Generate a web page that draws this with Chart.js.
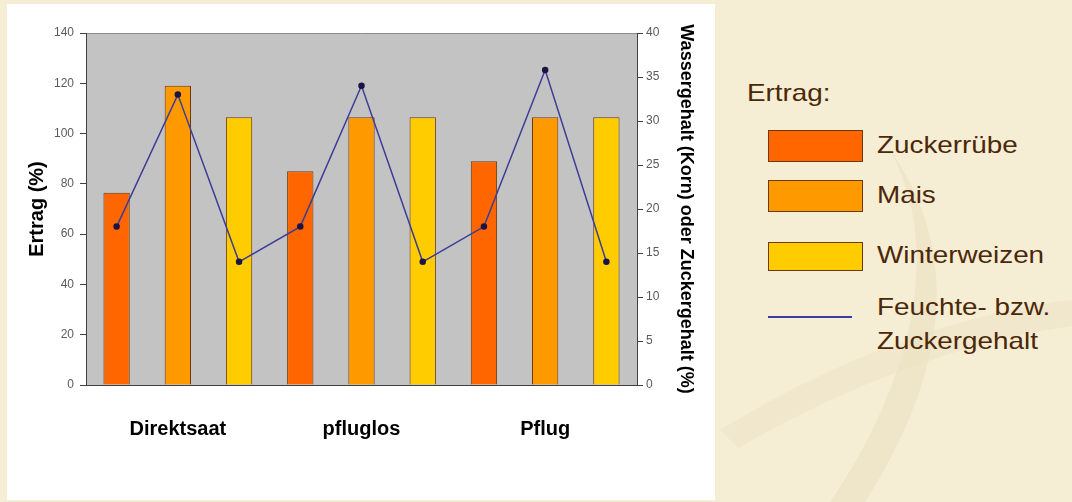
<!DOCTYPE html>
<html lang="de">
<head>
<meta charset="utf-8">
<title>Ertrag und Feuchte-/Zuckergehalt</title>
<script src="https://cdn.jsdelivr.net/npm/chart.js@4.4.1/dist/chart.umd.min.js"></script>
<style>
    html, body {
        margin: 0;
        padding: 0;
    }
    body {
        width: 1072px;
        height: 502px;
        position: relative;
        overflow: hidden;
        background: #f6edd5;
        font-family: 'Liberation Sans', Arial, sans-serif;
    }
    #swoosh {
        position: absolute;
        left: 0;
        top: 0;
    }
    #chartBox {
        position: absolute;
        left: 7px;
        top: 4px;
        width: 708px;
        height: 496px;
        background: #ffffff;
    }
    .legend {
        position: absolute;
        color: #4a2808;
        font-size: 24px;
        transform: scaleX(1.16);
        transform-origin: left center;
        white-space: nowrap;
    }
    .swatch {
        position: absolute;
        box-sizing: border-box;
        border: 1px solid #6b3a10;
    }
</style>
</head>
<body>
<svg id="swoosh" width="1072" height="502">
    <path d="M 890 150 C 950 260 900 400 830 502 L 865 502 C 930 400 975 270 890 150 Z" fill="#ebdfc0" opacity="0.6"/>
    <path d="M 720 430 C 850 350 980 310 1072 300 L 1072 326 C 980 338 860 378 738 448 Z" fill="#ebdfc0" opacity="0.45"/>
</svg>
<div id="chartBox"><canvas id="ertragChart"></canvas></div>

<div class="legend" style="left:747px; top:79px;">Ertrag:</div>
<div class="swatch" style="left:768px; top:130px; width:95px; height:32px; background:#ff6600;"></div>
<div class="legend" style="left:877px; top:131px;">Zuckerrübe</div>
<div class="swatch" style="left:768px; top:180px; width:95px; height:32px; background:#ff9900;"></div>
<div class="legend" style="left:877px; top:181px;">Mais</div>
<div class="swatch" style="left:768px; top:242px; width:95px; height:29px; background:#ffcc00;"></div>
<div class="legend" style="left:877px; top:241px;">Winterweizen</div>
<div style="position:absolute; left:768px; top:316px; width:84px; height:2px; background:#3a3aa8;"></div>
<div class="legend" style="left:877px; top:293px;">Feuchte- bzw.</div>
<div class="legend" style="left:877px; top:327px;">Zuckergehalt</div>

<script>
// Verfahren (Kategorien) und Kulturen
const categories = ['Direktsaat', 'pfluglos', 'Pflug'];
const kulturen = ['Zuckerrübe', 'Mais', 'Winterweizen'];

// Ertrag (%) je Kultur
const zuckerruebe = [76.5, 85, 89];
const mais = [119, 106.5, 106.5];
const winterweizen = [106.5, 106.5, 106.5];

// Feuchte- bzw. Zuckergehalt (%) - ein Punkt pro Balken
const gehalt = [18, 33, 14, 18, 34, 14, 18, 35.8, 14];

// Achsen
const ertragMax = 140;
const ertragStep = 20;
const gehaltMax = 40;
const gehaltStep = 5;

const fontFamily = "'Liberation Sans', Arial, sans-serif";

// ein Platz pro Balken: Verfahren x Kultur
const slots = [];
categories.forEach(c => kulturen.forEach(k => slots.push(c + ' ' + k)));

// Balkenwerte auf ihren Platz legen, sonst null
function toSlots(values, kulturIndex) {
    return slots.map((s, i) => (i % kulturen.length === kulturIndex) ? values[Math.floor(i / kulturen.length)] : null);
}

// grauer Hintergrund der Zeichenfläche
const plotBackground = {
    id: 'plotBackground',
    beforeDraw(chart) {
        const { ctx, chartArea } = chart;
        ctx.save();
        ctx.fillStyle = '#c3c3c3';
        ctx.fillRect(chartArea.left, chartArea.top, chartArea.right - chartArea.left, chartArea.bottom - chartArea.top);
        ctx.strokeStyle = '#8a8a8a';
        ctx.lineWidth = 1;
        ctx.beginPath();
        ctx.moveTo(chartArea.left, chartArea.top + 0.5);
        ctx.lineTo(chartArea.right, chartArea.top + 0.5);
        ctx.stroke();
        ctx.restore();
    }
};

const barStyle = {
    borderColor: '#6b3a10',
    borderWidth: 1,
    categoryPercentage: 1.0,
    barPercentage: 0.43,
    skipNull: true,
    yAxisID: 'y',
    order: 1
};

const ctx = document.getElementById('ertragChart').getContext('2d');
const ertragChart = new Chart(ctx, {
    type: 'bar',
    data: {
        labels: slots,
        datasets: [{
            label: 'Zuckerrübe',
            data: toSlots(zuckerruebe, 0),
            backgroundColor: '#ff6600',
            ...barStyle
        }, {
            label: 'Mais',
            data: toSlots(mais, 1),
            backgroundColor: '#ff9900',
            ...barStyle
        }, {
            label: 'Winterweizen',
            data: toSlots(winterweizen, 2),
            backgroundColor: '#ffcc00',
            ...barStyle
        }, {
            type: 'line',
            label: 'Feuchte- bzw. Zuckergehalt',
            data: gehalt,
            yAxisID: 'y1',
            borderColor: '#3d3d99',
            borderWidth: 1.5,
            pointRadius: 2.5,
            pointBackgroundColor: '#1b1446',
            pointBorderColor: '#1b1446',
            tension: 0,
            fill: false,
            order: 0
        }]
    },
    options: {
        responsive: true,
        maintainAspectRatio: false,
        animation: false,
        layout: {
            padding: { top: 29, left: 0, right: 0, bottom: 0 }
        },
        scales: {
            x: {
                type: 'category',
                position: 'bottom',
                offset: true,
                grid: { display: false },
                border: { display: true, color: '#404040', width: 1 },
                ticks: {
                    color: '#000000',
                    padding: 24,
                    autoSkip: false,
                    maxRotation: 0,
                    font: { family: fontFamily, size: 20, weight: 'bold' },
                    callback: function (value, index) {
                        return (index % kulturen.length === 1) ? categories[Math.floor(index / kulturen.length)] : '';
                    }
                },
                afterFit: function (axis) {
                    axis.height = 115;
                }
            },
            y: {
                position: 'left',
                min: 0,
                max: ertragMax,
                ticks: {
                    stepSize: ertragStep,
                    color: '#5a5a5a',
                    padding: 6,
                    font: { family: fontFamily, size: 12 }
                },
                grid: {
                    drawOnChartArea: false,
                    drawTicks: true,
                    tickLength: 6,
                    color: '#404040'
                },
                border: { display: true, color: '#404040', width: 1 },
                title: {
                    display: true,
                    text: 'Ertrag (%)',
                    color: '#000000',
                    padding: { top: 18, bottom: 0 },
                    font: { family: fontFamily, size: 20, weight: 'bold' }
                },
                afterFit: function (axis) {
                    axis.width = 79;
                }
            },
            y1: {
                position: 'right',
                min: 0,
                max: gehaltMax,
                ticks: {
                    stepSize: gehaltStep,
                    color: '#5a5a5a',
                    padding: 3,
                    font: { family: fontFamily, size: 12 }
                },
                grid: {
                    drawOnChartArea: false,
                    drawTicks: true,
                    tickLength: 6,
                    color: '#404040'
                },
                border: { display: true, color: '#404040', width: 1 },
                title: {
                    display: true,
                    text: 'Wassergehalt (Korn) oder Zuckergehalt (%)',
                    color: '#000000',
                    padding: { top: 18, bottom: 0 },
                    font: { family: fontFamily, size: 18, weight: 'bold' }
                },
                afterFit: function (axis) {
                    axis.width = 78;
                }
            }
        },
        plugins: {
            legend: { display: false },
            title: { display: false },
            tooltip: { enabled: false }
        }
    },
    plugins: [plotBackground]
});
</script>
</body>
</html>
